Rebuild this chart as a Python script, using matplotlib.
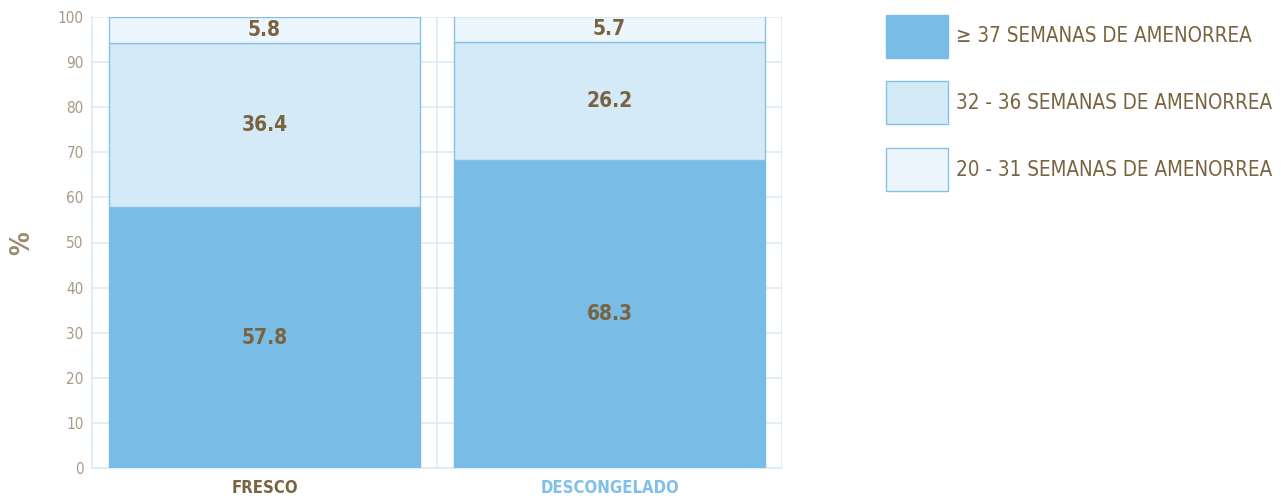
import numpy as np
import matplotlib.pyplot as plt
from matplotlib.patches import Patch

plt.rcParams['font.family'] = ['DejaVu Sans']
plt.rcParams['font.stretch'] = 'condensed'

categories = ['FRESCO', 'DESCONGELADO']
term = [57.8, 68.3]
preterm = [36.4, 26.2]
very_preterm = [5.8, 5.7]
series_labels = ['\u2265 37 SEMANAS DE AMENORREA',
                 '32 - 36 SEMANAS DE AMENORREA',
                 '20 - 31 SEMANAS DE AMENORREA']

colors = ['#79bce6', '#d5eaf7', '#eef6fd']
edge = '#85c2ea'
grid_c = '#dceaf6'
brown = '#7a6440'
tick_c = '#a89a85'

fig = plt.figure(figsize=(12.81, 4.99), dpi=100)
ax = fig.add_axes([92/1281, 1-468/499, 690/1281, 451/499])

x = np.arange(len(categories))
w = 0.9
bottoms = np.zeros(len(categories))
for i, vals in enumerate((term, preterm, very_preterm)):
    ec = colors[0] if i == 0 else edge
    ax.bar(x, vals, w, bottom=bottoms, color=colors[i], edgecolor=ec, linewidth=1.0, zorder=3)
    for xi, b, v in zip(x, bottoms, vals):
        ax.text(xi, b + v/2, '%.1f' % v, ha='center', va='center', fontsize=15,
                fontweight='bold', color=brown, zorder=4)
    bottoms += np.array(vals)

ax.set_xlim(-0.5, 1.5)
ax.set_ylim(0, 100)
ax.set_yticks(np.arange(0, 101, 10))
ax.set_xticks(x)
ax.set_xticklabels(categories, fontsize=12, fontweight='bold')
ax.get_xticklabels()[0].set_color(brown)
ax.get_xticklabels()[1].set_color('#7fbfe8')
ax.tick_params(axis='x', length=0, pad=8)
ax.tick_params(axis='y', length=0, labelsize=11, labelcolor=tick_c, pad=6)

ax.grid(axis='y', color=grid_c, linewidth=1.2, zorder=0)
for xv in (0.5, 1.5):
    ax.axvline(xv, color=grid_c, linewidth=1.2, zorder=0)
for s in ('top', 'right'):
    ax.spines[s].set_visible(False)
for s in ('left', 'bottom'):
    ax.spines[s].set_color(grid_c)
    ax.spines[s].set_linewidth(1.2)

fig.text(22/1281, 1-243/499, '%', rotation=90, ha='center', va='center',
         fontsize=19, fontweight='bold', color='#9a8a70')

handles = [Patch(facecolor=colors[0], edgecolor=colors[0]),
           Patch(facecolor=colors[1], edgecolor=edge),
           Patch(facecolor=colors[2], edgecolor=edge)]
fig.legend(handles, series_labels, loc='upper left', bbox_to_anchor=(867/1281, 1+4/499),
           frameon=False, fontsize=14.8, handlelength=3.05, handleheight=2.85,
           labelspacing=1.15, handletextpad=0.4, labelcolor=brown)

fig.savefig('out.png', dpi=100)
